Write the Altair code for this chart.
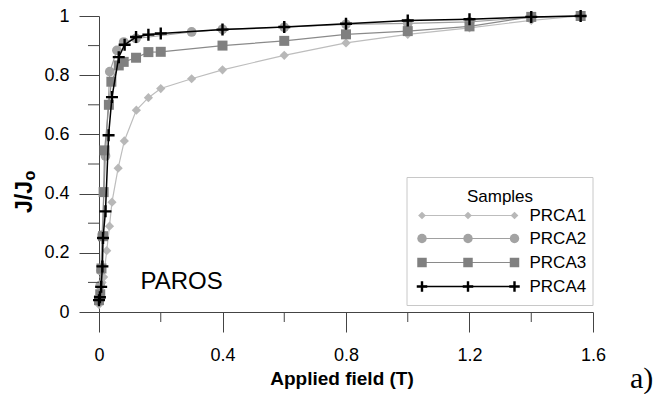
import altair as alt
import pandas as pd

# Applied field (T) and normalised critical current J/Jo for each sample
field_prca1 = [0.0, 0.005, 0.01, 0.015, 0.025, 0.034, 0.042, 0.062, 0.082, 0.121,
               0.16, 0.2, 0.3, 0.4, 0.6, 0.8, 1.0, 1.2, 1.4, 1.56]
jj_prca1 = [0.025, 0.06, 0.10, 0.118, 0.207, 0.29, 0.371, 0.486, 0.578, 0.682,
            0.724, 0.755, 0.788, 0.818, 0.867, 0.909, 0.938, 0.96, 0.985, 1.0]

field_prca2 = [0.0, 0.004, 0.006, 0.01, 0.021, 0.035, 0.058, 0.08, 0.12, 0.3,
               0.4, 0.6, 0.8, 1.0, 1.2, 1.4, 1.56]
jj_prca2 = [0.04, 0.09, 0.14, 0.26, 0.527, 0.812, 0.884, 0.912, 0.924, 0.946,
            0.955, 0.962, 0.972, 0.975, 0.98, 0.995, 1.0]

field_prca3 = [0.0, 0.004, 0.008, 0.013, 0.015, 0.018, 0.032, 0.04, 0.064, 0.08,
               0.12, 0.16, 0.2, 0.4, 0.6, 0.8, 1.0, 1.2, 1.4, 1.56]
jj_prca3 = [0.04, 0.06, 0.147, 0.256, 0.405, 0.546, 0.70, 0.778, 0.833, 0.845,
            0.859, 0.878, 0.879, 0.90, 0.916, 0.938, 0.949, 0.965, 0.997, 1.0]

field_prca4 = [0.0, 0.003, 0.007, 0.011, 0.013, 0.021, 0.031, 0.042, 0.064, 0.083,
               0.12, 0.16, 0.2, 0.4, 0.6, 0.8, 1.0, 1.2, 1.4, 1.56]
jj_prca4 = [0.04, 0.05, 0.085, 0.154, 0.25, 0.34, 0.597, 0.726, 0.861, 0.903,
            0.929, 0.937, 0.941, 0.954, 0.963, 0.974, 0.985, 0.989, 0.997, 1.0]

sample_names = ["PRCA1", "PRCA2", "PRCA3", "PRCA4"]

x_major = [0, 0.4, 0.8, 1.2, 1.6]
x_minor = [0.2, 0.6, 1.0, 1.4]
y_major = [0, 0.2, 0.4, 0.6, 0.8, 1.0]
y_minor = [0.1, 0.3, 0.5, 0.7, 0.9]

W, H = 494, 296
FONT = "Liberation Sans"
AXIS_COLOR = "#444444"
PLUS = "M-1,0L1,0M0,-1L0,1"

x_scale = alt.Scale(domain=[0, 1.6], nice=False, zero=False)
y_scale = alt.Scale(domain=[0, 1], nice=False, zero=False)
x_axis = alt.Axis(values=x_major, format=".1~f", title=None, grid=False,
                  tickSize=20, tickColor=AXIS_COLOR, domainColor=AXIS_COLOR,
                  labelFont=FONT, labelFontSize=18, labelColor="black",
                  labelPadding=14, labelFlush=False, labelOverlap=False)
y_axis = alt.Axis(values=y_major, format=".1~f", title=None, grid=False,
                  tickSize=20, tickColor=AXIS_COLOR, domainColor=AXIS_COLOR,
                  labelFont=FONT, labelFontSize=18, labelColor="black",
                  labelPadding=10, labelOverlap=False)

# marker / line style per sample
styles = {
    "PRCA1": dict(line="#bdbdbd", lw=1.2, shape="diamond", size=85, fill="#b8b8b8"),
    "PRCA2": dict(line="#a0a0a0", lw=1.2, shape="circle", size=95, fill="#a3a3a3"),
    "PRCA3": dict(line="#8a8a8a", lw=1.2, shape="square", size=100, fill="#808080"),
    "PRCA4": dict(line="#000000", lw=1.5, shape=PLUS, size=144, fill=None),
}

series = {
    "PRCA1": (field_prca1, jj_prca1),
    "PRCA2": (field_prca2, jj_prca2),
    "PRCA3": (field_prca3, jj_prca3),
    "PRCA4": (field_prca4, jj_prca4),
}


def marker(st, size=None):
    size = size or st["size"]
    if st["fill"] is None:
        return alt.MarkDef(type="point", shape=st["shape"], size=size, filled=False,
                           stroke="black", strokeWidth=2.4, opacity=1)
    return alt.MarkDef(type="point", shape=st["shape"], size=size, filled=True,
                       fill=st["fill"], strokeWidth=0, opacity=1)


def xy():
    return dict(x=alt.X("field:Q", scale=x_scale, axis=x_axis),
                y=alt.Y("ratio:Q", scale=y_scale, axis=y_axis))


one_row = alt.Data(values=[{}])
layers = []

for name in sample_names:
    fx, fy = series[name]
    st = styles[name]
    df = pd.DataFrame({"field": fx, "ratio": fy})
    layers.append(alt.Chart(df).mark_line(color=st["line"], strokeWidth=st["lw"]).encode(**xy()))
    layers.append(alt.Chart(df, mark=marker(st)).encode(**xy()))

# minor ticks
layers.append(
    alt.Chart(pd.DataFrame({"v": x_minor})).mark_rule(color=AXIS_COLOR, strokeWidth=1).encode(
        x=alt.X("v:Q", scale=x_scale, axis=x_axis), y=alt.value(H), y2=alt.value(H + 10))
)
layers.append(
    alt.Chart(pd.DataFrame({"v": y_minor})).mark_rule(color=AXIS_COLOR, strokeWidth=1).encode(
        y=alt.Y("v:Q", scale=y_scale, axis=y_axis), x=alt.value(-11), x2=alt.value(0))
)

# legend
LEG_L, LEG_R, LEG_T, LEG_B = 308, 494, 161.5, 289.5
layers.append(
    alt.Chart(one_row).mark_rect(fill="white", stroke="#c8c8c8", strokeWidth=1).encode(
        x=alt.value(LEG_L), x2=alt.value(LEG_R), y=alt.value(LEG_T), y2=alt.value(LEG_B))
)
layers.append(
    alt.Chart(one_row).mark_text(text="Samples", font=FONT, fontSize=17, align="center",
                                 baseline="middle", color="black").encode(
        x=alt.value(401), y=alt.value(181))
)
row_y = [199.5, 222.5, 246.5, 270.5]
sym_x = [323, 369, 415.5]
legend_sizes = {"PRCA1": 60, "PRCA2": 90, "PRCA3": 90, "PRCA4": 110}
for name, ry in zip(sample_names, row_y):
    st = styles[name]
    layers.append(
        alt.Chart(one_row).mark_rule(color=st["line"], strokeWidth=st["lw"]).encode(
            x=alt.value(sym_x[0]), x2=alt.value(sym_x[-1]), y=alt.value(ry))
    )
    for sx in sym_x:
        layers.append(
            alt.Chart(one_row, mark=marker(st, legend_sizes[name])).encode(
                x=alt.value(sx), y=alt.value(ry))
        )
    layers.append(
        alt.Chart(one_row).mark_text(text=name, font=FONT, fontSize=17, align="left",
                                     baseline="middle", color="black").encode(
            x=alt.value(430.5), y=alt.value(ry))
    )

# annotations and axis titles
layers.append(
    alt.Chart(one_row).mark_text(text="PAROS", font=FONT, fontSize=24, align="left",
                                 baseline="alphabetic", color="black").encode(
        x=alt.value(41.5), y=alt.value(273))
)
layers.append(
    alt.Chart(one_row).mark_text(text="Applied field (T)", font=FONT, fontSize=19,
                                 fontWeight="bold", align="center", baseline="alphabetic",
                                 color="black").encode(
        x=alt.value(243), y=alt.value(369))
)
layers.append(
    alt.Chart(one_row).mark_text(text="J/J", font=FONT, fontSize=23, fontWeight="bold",
                                 angle=270, align="left", baseline="alphabetic",
                                 color="black").encode(
        x=alt.value(-67), y=alt.value(197))
)
layers.append(
    alt.Chart(one_row).mark_text(text="o", font=FONT, fontSize=16, fontWeight="bold",
                                 angle=270, align="left", baseline="alphabetic",
                                 color="black").encode(
        x=alt.value(-64), y=alt.value(164.5))
)
layers.append(
    alt.Chart(one_row).mark_text(text="a)", font="Liberation Serif", fontSize=30,
                                 align="left", baseline="alphabetic", color="black").encode(
        x=alt.value(531), y=alt.value(372))
)

chart = alt.layer(*layers).properties(
    width=W, height=H,
    autosize=alt.AutoSizeParams(type="none"),
    padding={"left": 99, "top": 16, "right": 63, "bottom": 82},
    background="white",
).configure_view(stroke=None)

chart.save("out.html", embed_options={"renderer": "svg", "actions": False})
